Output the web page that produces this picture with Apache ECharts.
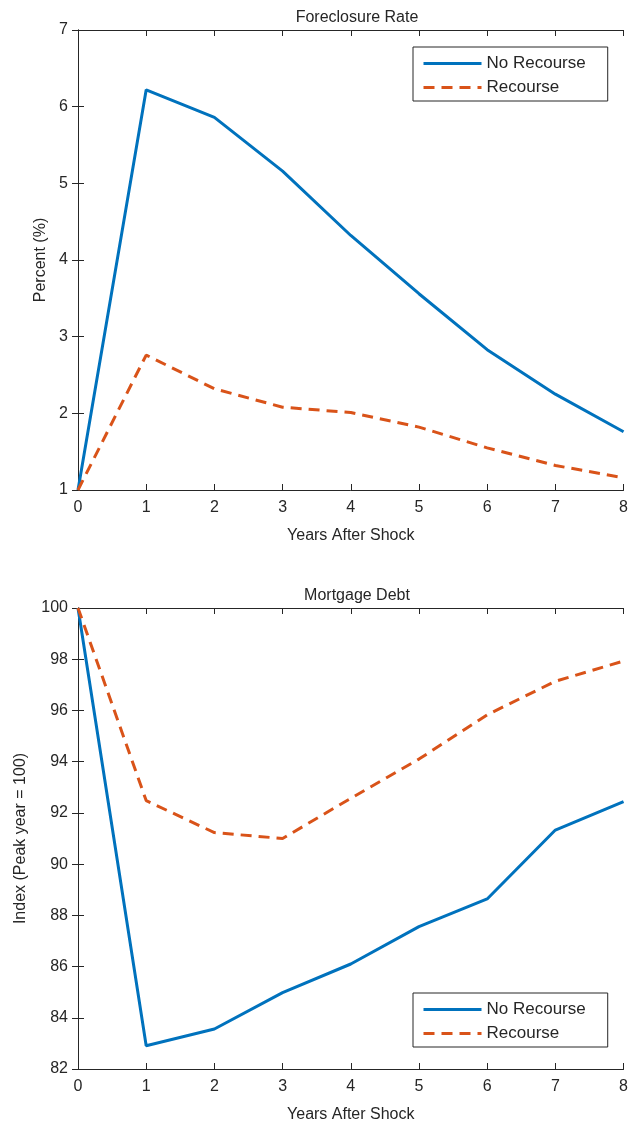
<!DOCTYPE html>
<html>
<head>
<meta charset="utf-8">
<script src="https://cdn.jsdelivr.net/npm/echarts@6/dist/echarts.min.js"></script>
<style>
  html, body { margin: 0; padding: 0; background: #fff; }
  #main { width: 631px; height: 1127px; }
</style>
</head>
<body>
<div id="main"></div>
<script>
// 数据
var years = [0, 1, 2, 3, 4, 5, 6, 7, 8];
var foreclosureNoRecourse = [1.0, 6.22, 5.86, 5.16, 4.32, 3.56, 2.83, 2.25, 1.76];
var foreclosureRecourse = [1.0, 2.76, 2.32, 2.08, 2.01, 1.82, 1.55, 1.32, 1.16];
var debtNoRecourse = [100, 82.91, 83.56, 84.98, 86.1, 87.56, 88.64, 91.33, 92.44];
var debtRecourse = [100, 92.48, 91.23, 91.0, 92.57, 94.1, 95.83, 97.14, 97.93];
var seriesNames = ['No Recourse', 'Recourse'];

function pairs(ys) {
    return years.map(function(x, i) { return [x, ys[i]]; });
}

(function() {
    var myChart = echarts.init(document.getElementById('main'));
    var ink = '#262626';
    var font = 'Liberation Sans, Arial, sans-serif';
    var blue = '#0072BD', orange = '#D95319';

    // 主坐标轴（带刻度文字）
    function xMain(gridIndex) {
        return {
            type: 'value', gridIndex: gridIndex, min: 0, max: 8, interval: 1,
            name: 'Years After Shock', nameLocation: 'middle', nameGap: 38,
            nameTextStyle: { color: ink, fontSize: 16, fontFamily: font },
            axisLine: { lineStyle: { color: ink, width: 1 } },
            axisTick: { inside: true, length: 6, lineStyle: { color: ink } },
            axisLabel: { color: ink, fontSize: 16, fontFamily: font, margin: 10 },
            splitLine: { show: false }
        };
    }
    // 镜像坐标轴（上/右边框 + 刻度）
    function xMirror(gridIndex) {
        return {
            type: 'value', gridIndex: gridIndex, min: 0, max: 8, interval: 1, position: 'top',
            axisLine: { show: true, lineStyle: { color: ink, width: 1 } },
            axisTick: { inside: true, length: 6, lineStyle: { color: ink } },
            axisLabel: { show: false }, splitLine: { show: false }
        };
    }
    function yMain(gridIndex, min, max, interval, name, gap) {
        return {
            type: 'value', gridIndex: gridIndex, min: min, max: max, interval: interval,
            name: name, nameLocation: 'middle', nameGap: gap,
            nameTextStyle: { color: ink, fontSize: 16, fontFamily: font },
            axisLine: { show: true, lineStyle: { color: ink, width: 1 } },
            axisTick: { show: true, inside: true, length: 6, lineStyle: { color: ink } },
            axisLabel: { color: ink, fontSize: 16, fontFamily: font, margin: 10 },
            splitLine: { show: false }
        };
    }
    function yMirror(gridIndex, min, max, interval) {
        return {
            type: 'value', gridIndex: gridIndex, min: min, max: max, interval: interval, position: 'right',
            axisLine: { show: true, lineStyle: { color: ink, width: 1 } },
            axisTick: { show: true, inside: true, length: 6, lineStyle: { color: ink } },
            axisLabel: { show: false }, splitLine: { show: false }
        };
    }
    function lineSeries(name, ys, xi, yi) {
        var dashed = name === 'Recourse';
        return {
            name: name, type: 'line', xAxisIndex: xi, yAxisIndex: yi,
            data: pairs(ys), symbol: 'none', showSymbol: false, animation: false,
            lineStyle: { color: dashed ? orange : blue, width: 3, type: dashed ? [11, 7] : 'solid', cap: 'butt' },
            itemStyle: { color: dashed ? orange : blue }
        };
    }
    function legendAt(top) {
        return {
            orient: 'vertical', left: 413, top: top,
            data: seriesNames,
            itemWidth: 58, itemHeight: 18, itemGap: 7,
            padding: [8, 22, 5, 9],
            itemStyle: { opacity: 0 },
            lineStyle: { width: 3 },
            borderColor: ink, borderWidth: 1, backgroundColor: '#fff',
            textStyle: { color: ink, fontSize: 17, fontFamily: font },
            selectedMode: false
        };
    }

    var option = {
        backgroundColor: '#fff',
        animation: false,
        title: [
            { text: 'Foreclosure Rate', left: 352, top: 5, textAlign: 'center',
              textStyle: { color: ink, fontSize: 16, fontWeight: 'normal', fontFamily: font } },
            { text: 'Mortgage Debt', left: 352, top: 583, textAlign: 'center',
              textStyle: { color: ink, fontSize: 16, fontWeight: 'normal', fontFamily: font } }
        ],
        legend: [legendAt(47), legendAt(993)],
        grid: [
            { left: 78, top: 30, width: 548, height: 460 },
            { left: 78, top: 608, width: 548, height: 461 }
        ],
        xAxis: [xMain(0), xMirror(0), xMain(1), xMirror(1)],
        yAxis: [
            yMain(0, 1, 7, 1, 'Percent (%)', 27), yMirror(0, 1, 7, 1),
            yMain(1, 82, 100, 2, 'Index (Peak year = 100)', 49), yMirror(1, 82, 100, 2)
        ],
        series: [
            lineSeries('No Recourse', foreclosureNoRecourse, 0, 0),
            lineSeries('Recourse', foreclosureRecourse, 0, 0),
            lineSeries('No Recourse', debtNoRecourse, 2, 2),
            lineSeries('Recourse', debtRecourse, 2, 2)
        ]
    };
    myChart.setOption(option);
})();
</script>
</body>
</html>
